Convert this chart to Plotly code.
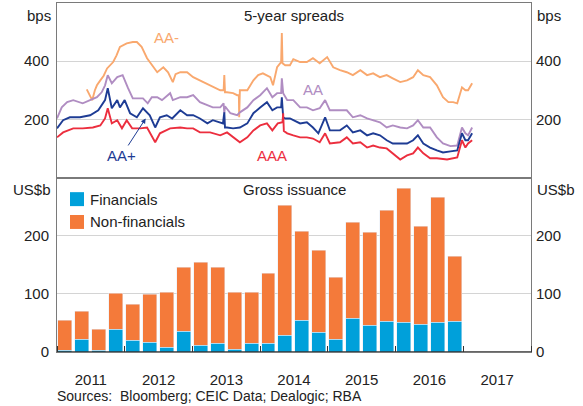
import plotly.graph_objects as go
import pandas as pd
from datetime import datetime, timedelta

# ---------------- data ----------------
# 5-year spreads (bps), time as decimal year
aa_minus_t = [2011.44, 2011.47, 2011.52, 2011.56, 2011.59, 2011.64, 2011.69, 2011.74, 2011.83, 2011.88,
              2011.93, 2012.03, 2012.12, 2012.18, 2012.25, 2012.33, 2012.40, 2012.48, 2012.57, 2012.64,
              2012.71, 2012.75, 2012.82, 2012.92, 2013.01, 2013.11, 2013.26, 2013.41, 2013.46, 2013.47,
              2013.48, 2013.51, 2013.60, 2013.66, 2013.685, 2013.69, 2013.70, 2013.73, 2013.81, 2013.90,
              2013.97, 2014.04, 2014.15, 2014.19, 2014.25, 2014.31, 2014.32, 2014.33, 2014.37, 2014.44,
              2014.49, 2014.59, 2014.69, 2014.78, 2014.88, 2014.99, 2015.08, 2015.18, 2015.28, 2015.37,
              2015.48, 2015.58, 2015.67, 2015.77, 2015.87, 2015.96, 2016.07, 2016.17, 2016.26, 2016.33,
              2016.41, 2016.51, 2016.61, 2016.70, 2016.78, 2016.85, 2016.91, 2016.98, 2017.03, 2017.07, 2017.13]
aa_minus_v = [303, 290, 266, 300, 317, 334, 350, 375, 397, 420,
              449, 461, 466, 466, 449, 410, 386, 362, 379, 362,
              328, 355, 362, 362, 345, 334, 317, 300, 300, 352,
              293, 293, 290, 283, 283, 207, 300, 300, 300, 334,
              352, 358, 345, 317, 379, 397, 497, 393, 386, 386,
              407, 397, 397, 410, 393, 414, 379, 369, 362, 352,
              369, 352, 358, 345, 352, 341, 328, 334, 345, 369,
              352, 345, 317, 276, 259, 259, 255, 310, 300, 300, 324]

aa_t = [2011.00, 2011.07, 2011.15, 2011.24, 2011.38, 2011.49, 2011.59, 2011.66, 2011.71, 2011.75,
        2011.81, 2011.89, 2011.97, 2012.05, 2012.12, 2012.27, 2012.34, 2012.40, 2012.48, 2012.55,
        2012.67, 2012.71, 2012.82, 2012.92, 2013.01, 2013.11, 2013.22, 2013.30, 2013.41, 2013.46,
        2013.47, 2013.48, 2013.56, 2013.66, 2013.70, 2013.81, 2013.90, 2014.00, 2014.10, 2014.18,
        2014.25, 2014.31, 2014.32, 2014.34, 2014.40, 2014.49, 2014.59, 2014.69, 2014.78, 2014.88,
        2014.96, 2015.03, 2015.18, 2015.28, 2015.37, 2015.48, 2015.58, 2015.67, 2015.77, 2015.87,
        2015.96, 2016.07, 2016.17, 2016.26, 2016.33, 2016.41, 2016.51, 2016.61, 2016.70, 2016.81,
        2016.91, 2016.98, 2017.03, 2017.07, 2017.13]
aa_v = [203, 241, 259, 266, 255, 266, 276, 293, 317, 352,
        324, 345, 352, 307, 272, 272, 255, 276, 276, 266,
        290, 266, 276, 276, 283, 259, 248, 241, 241, 255,
        221, 245, 221, 214, 224, 241, 266, 283, 307, 276,
        290, 290, 341, 290, 266, 266, 241, 241, 231, 238,
        266, 231, 231, 231, 207, 214, 203, 197, 190, 172,
        179, 172, 169, 179, 197, 172, 172, 138, 117, 108,
        110, 172, 152, 145, 172]

aa_plus_t = [2011.00, 2011.09, 2011.19, 2011.34, 2011.49, 2011.61, 2011.71, 2011.75, 2011.81, 2011.89,
             2011.93, 2012.00, 2012.08, 2012.18, 2012.27, 2012.37, 2012.45, 2012.52, 2012.62, 2012.70,
             2012.82, 2012.92, 2013.01, 2013.11, 2013.22, 2013.30, 2013.45, 2013.47, 2013.48, 2013.51,
             2013.60, 2013.70, 2013.81, 2013.90, 2014.00, 2014.10, 2014.18, 2014.25, 2014.31, 2014.32,
             2014.34, 2014.37, 2014.44, 2014.49, 2014.59, 2014.69, 2014.78, 2014.86, 2014.96, 2015.03,
             2015.18, 2015.28, 2015.37, 2015.48, 2015.58, 2015.67, 2015.77, 2015.87, 2015.96, 2016.07,
             2016.17, 2016.26, 2016.33, 2016.41, 2016.51, 2016.61, 2016.70, 2016.81, 2016.91, 2016.98,
             2017.03, 2017.07, 2017.13]
aa_plus_v = [169, 197, 207, 207, 214, 231, 266, 307, 238, 266,
             241, 266, 221, 207, 238, 214, 172, 207, 214, 203,
             231, 214, 214, 203, 186, 197, 186, 224, 172, 172,
             169, 172, 186, 221, 241, 259, 231, 241, 241, 276,
             207, 203, 203, 197, 186, 190, 172, 152, 207, 162,
             162, 179, 155, 162, 145, 152, 145, 128, 117, 117,
             117, 128, 145, 117, 103, 93, 86, 90, 93, 152,
             128, 128, 152]

aaa_t = [2011.00, 2011.09, 2011.24, 2011.38, 2011.53, 2011.64, 2011.71, 2011.75, 2011.81, 2011.89,
         2011.96, 2012.03, 2012.11, 2012.23, 2012.33, 2012.45, 2012.52, 2012.67, 2012.82, 2012.92,
         2013.01, 2013.11, 2013.26, 2013.41, 2013.51, 2013.60, 2013.70, 2013.81, 2013.90, 2014.00,
         2014.10, 2014.18, 2014.26, 2014.33, 2014.34, 2014.35, 2014.40, 2014.49, 2014.59, 2014.69,
         2014.78, 2014.88, 2014.96, 2015.03, 2015.18, 2015.28, 2015.37, 2015.48, 2015.58, 2015.67,
         2015.77, 2015.87, 2015.99, 2016.07, 2016.17, 2016.26, 2016.33, 2016.41, 2016.51, 2016.61,
         2016.76, 2016.91, 2016.98, 2017.03, 2017.07, 2017.13]
aaa_v = [138, 155, 169, 169, 172, 179, 203, 238, 186, 197,
         169, 197, 169, 169, 172, 121, 152, 169, 172, 169,
         169, 155, 155, 145, 155, 138, 121, 138, 162, 179,
         186, 162, 186, 190, 221, 160, 152, 145, 138, 138,
         134, 121, 152, 117, 121, 138, 117, 121, 103, 110,
         103, 100, 76, 62, 76, 83, 103, 83, 66, 66,
         62, 69, 128, 103, 117, 128]

# Gross issuance (US$b), quarterly
quarters = ["2011Q1", "2011Q2", "2011Q3", "2011Q4", "2012Q1", "2012Q2", "2012Q3", "2012Q4",
            "2013Q1", "2013Q2", "2013Q3", "2013Q4", "2014Q1", "2014Q2", "2014Q3", "2014Q4",
            "2015Q1", "2015Q2", "2015Q3", "2015Q4", "2016Q1", "2016Q2", "2016Q3", "2016Q4"]
financials = [3, 22, 2, 38, 19, 17, 8, 35, 11, 14, 5, 14, 15, 29, 54, 33, 21, 57, 45, 52, 50, 47, 50, 53]
non_financials = [52, 48, 36, 63, 62, 82, 95, 111, 143, 132, 98, 88, 120, 223, 153, 142,
                  107, 166, 161, 191, 231, 168, 215, 111]

# ---------------- helpers ----------------
def to_date(t):
    y = int(t)
    start = datetime(y, 1, 1)
    days = (datetime(y + 1, 1, 1) - start).days
    return start + timedelta(days=(t - y) * days)

def dates(ts):
    return [to_date(t) for t in ts]

q_periods = [pd.Period(q, freq="Q") for q in quarters]
q_mid = [p.start_time + (p.end_time - p.start_time) / 2 for p in q_periods]
bar_width = 75 * 86400000

FONT = "Liberation Sans, Arial, sans-serif"
TXT = "#222222"
FRAME = "#7a7a7a"
GRID = "#d4d4d4"

C_AAM = "#F9A86E"
C_AA = "#B08DC2"
C_AAP = "#1E3C94"
C_AAA = "#EC2E3E"
C_FIN = "#00A0DA"
C_NF = "#F47A3A"

fig = go.Figure()

for name, t, v, c in [("AA-", aa_minus_t, aa_minus_v, C_AAM),
                      ("AA", aa_t, aa_v, C_AA),
                      ("AA+", aa_plus_t, aa_plus_v, C_AAP),
                      ("AAA", aaa_t, aaa_v, C_AAA)]:
    fig.add_trace(go.Scatter(x=dates(t), y=v, mode="lines", name=name,
                             line=dict(color=c, width=1.9), showlegend=False,
                             xaxis="x", yaxis="y"))

fig.add_trace(go.Bar(x=q_mid, y=financials, name="Financials", marker_color=C_FIN,
                     width=bar_width, xaxis="x2", yaxis="y2", showlegend=False))
fig.add_trace(go.Bar(x=q_mid, y=non_financials, name="Non-financials", marker_color=C_NF,
                     width=bar_width, xaxis="x2", yaxis="y2", showlegend=False))

xr = ["2011-01-01", "2018-01-01"]
common_x = dict(type="date", range=xr, showgrid=False, zeroline=False,
                showline=True, mirror=True, linecolor=FRAME, linewidth=1,
                dtick="M12", tick0="2011-01-01")

fig.update_layout(
    width=583, height=406,
    margin=dict(l=57, r=52, t=3, b=54),
    paper_bgcolor="white", plot_bgcolor="white",
    font=dict(family=FONT, size=15, color=TXT),
    barmode="stack", bargap=0,
    showlegend=False,
    xaxis=dict(**common_x, anchor="y", showticklabels=False, ticks=""),
    xaxis2=dict(**common_x, anchor="y2", matches="x", ticks="inside", ticklen=6, tickwidth=1,
                tickcolor="#333333", ticklabelmode="period", ticklabelstandoff=14,
                tickformat="%Y", tickfont=dict(size=15, color=TXT), layer="above traces"),
    yaxis=dict(domain=[0.5, 1], range=[0, 600], tickvals=[200, 400],
               showgrid=True, gridcolor=GRID, gridwidth=1, zeroline=False,
               showline=True, mirror=True, linecolor=FRAME, ticks="", ticklabelstandoff=4),
    yaxis3=dict(overlaying="y", side="right", anchor="x", range=[0, 600], tickvals=[200, 400],
                showgrid=False, zeroline=False, ticks="", ticklabelstandoff=4),
    yaxis2=dict(domain=[0, 0.5], range=[0, 300], tickvals=[0, 100, 200],
                showgrid=True, gridcolor=GRID, gridwidth=1, zeroline=False,
                showline=True, mirror=True, linecolor=FRAME, ticks="", ticklabelstandoff=4),
    yaxis4=dict(overlaying="y2", side="right", anchor="x2", range=[0, 300], tickvals=[0, 100, 200],
                showgrid=False, zeroline=False, ticks="", ticklabelstandoff=4),
)

# dummy traces so right-hand axes render
fig.add_trace(go.Scatter(x=[None], y=[None], xaxis="x", yaxis="y3", showlegend=False, hoverinfo="skip"))
fig.add_trace(go.Scatter(x=[None], y=[None], xaxis="x2", yaxis="y4", showlegend=False, hoverinfo="skip"))

# baseline of bottom panel
fig.add_shape(type="line", xref="x2 domain", yref="y2", x0=0, x1=1, y0=0, y1=0,
              line=dict(color="#333333", width=1.5))

# legend (drawn as key squares + labels)
legend_items = [("Financials", C_FIN, 0.458, 0.438), ("Non-financials", C_NF, 0.3926, 0.3725)]
for label, col, ytop, ytxt in legend_items:
    fig.add_shape(type="rect", xref="paper", yref="paper", x0=0.0274, x1=0.0570,
                  y0=ytop - 0.040, y1=ytop, fillcolor=col, line=dict(width=0))
    fig.add_annotation(text=label, xref="paper", yref="paper", x=0.0654, y=ytxt,
                       xanchor="left", yanchor="middle", showarrow=False,
                       font=dict(size=15, color=TXT))

fig.add_annotation(text="5-year spreads", xref="paper", yref="paper", x=0.5, y=0.963,
                   xanchor="center", yanchor="middle", showarrow=False, font=dict(size=15, color=TXT))
fig.add_annotation(text="Gross issuance", xref="paper", yref="paper", x=0.5, y=0.467,
                   xanchor="center", yanchor="middle", showarrow=False, font=dict(size=15, color=TXT))
fig.add_annotation(text="bps", xref="paper", yref="paper", x=-0.008, y=0.995,
                   xanchor="right", yanchor="top", showarrow=False)
fig.add_annotation(text="bps", xref="paper", yref="paper", x=1.008, y=0.995,
                   xanchor="left", yanchor="top", showarrow=False)
fig.add_annotation(text="US$b", xref="paper", yref="paper", x=-0.008, y=0.496,
                   xanchor="right", yanchor="top", showarrow=False)
fig.add_annotation(text="US$b", xref="paper", yref="paper", x=1.008, y=0.496,
                   xanchor="left", yanchor="top", showarrow=False)

# series labels
fig.add_annotation(text="AA-", x=to_date(2012.62), y=480, xref="x", yref="y",
                   xanchor="center", yanchor="middle", showarrow=False, font=dict(size=15, color=C_AAM))
fig.add_annotation(text="AA", x=to_date(2014.78), y=303, xref="x", yref="y",
                   xanchor="center", yanchor="middle", showarrow=False, font=dict(size=15, color=C_AA))
fig.add_annotation(text="AAA", x=to_date(2014.18), y=76, xref="x", yref="y",
                   xanchor="center", yanchor="middle", showarrow=False, font=dict(size=15, color=C_AAA))
fig.add_annotation(text="AA+", x=to_date(2012.31), y=203, xref="x", yref="y",
                   ax=-24, ay=37, showarrow=True, arrowhead=2, arrowsize=1, arrowwidth=1,
                   arrowcolor=C_AAP, font=dict(size=15, color=C_AAP))

fig.add_annotation(text="Sources:\u00a0\u00a0Bloomberg; CEIC Data; Dealogic; RBA", xref="paper", yref="paper",
                   x=-0.004, y=-0.127, xanchor="left", yanchor="middle", showarrow=False,
                   font=dict(size=14, color=TXT))

fig.write_html("out.html", config={"displayModeBar": False},
               post_script="document.body.style.margin='0';")
